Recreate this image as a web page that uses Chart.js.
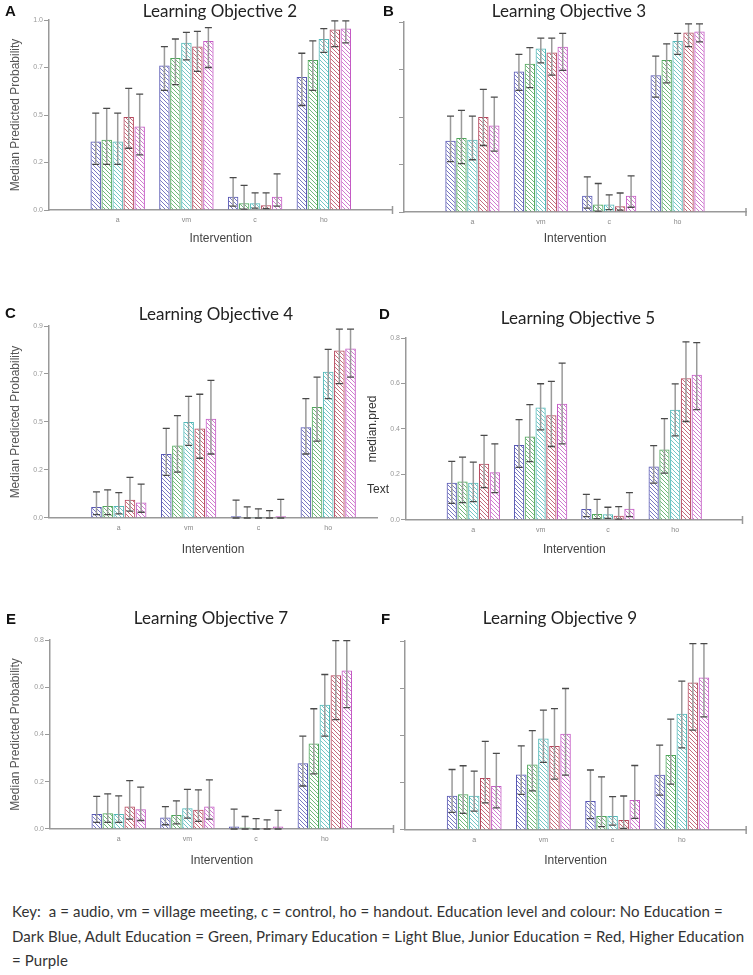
<!DOCTYPE html>
<html>
<head>
<meta charset="utf-8">
<script src="https://cdn.jsdelivr.net/npm/chart.js@4.4.1/dist/chart.umd.min.js"></script>
<style>
  body { margin: 0; background: #fff; width: 753px; height: 975px; position: relative; overflow: hidden; }
  canvas { position: absolute; }
  .ttl { position: absolute; font-family: Lato, sans-serif; font-size: 17px; color: #222; transform: translate(-50%, -50%); white-space: nowrap; }
  .lt { position: absolute; font: bold 15px "Liberation Sans", Arial, sans-serif; color: #111; transform: translateY(-50%); }
  #key { position: absolute; left: 12px; top: 899px; font-family: Lato, sans-serif; font-size: 15px; letter-spacing: 0.1px; line-height: 24.5px; color: #333; white-space: pre; }
  #txt { position: absolute; left: 367px; top: 482px; font: 12px "Liberation Sans", Arial, sans-serif; color: #333; }
</style>
</head>
<body>
<canvas id="cA" width="400" height="250" style="left:0px;top:0px"></canvas>
<canvas id="cB" width="377" height="250" style="left:376px;top:0px"></canvas>
<canvas id="cC" width="400" height="260" style="left:0px;top:300px"></canvas>
<canvas id="cD" width="398" height="260" style="left:355px;top:300px"></canvas>
<canvas id="cE" width="400" height="290" style="left:0px;top:580px"></canvas>
<canvas id="cF" width="377" height="290" style="left:376px;top:580px"></canvas>

<div class="lt" style="left:5px;top:10px">A</div>
<div class="lt" style="left:383px;top:10px">B</div>
<div class="lt" style="left:5px;top:312px">C</div>
<div class="lt" style="left:379px;top:313px">D</div>
<div class="lt" style="left:6px;top:618px">E</div>
<div class="lt" style="left:381px;top:618px">F</div>

<div class="ttl" style="left:220px;top:10px">Learning Objective 2</div>
<div class="ttl" style="left:569px;top:10px">Learning Objective 3</div>
<div class="ttl" style="left:216px;top:313px">Learning Objective 4</div>
<div class="ttl" style="left:578px;top:317px">Learning Objective 5</div>
<div class="ttl" style="left:211px;top:617px">Learning Objective 7</div>
<div class="ttl" style="left:560px;top:617px">Learning Objective 9</div>

<div id="txt">Text</div>
<div id="key">Key:  a = audio, vm = village meeting, c = control, ho = handout. Education level and colour: No Education =
Dark Blue, Adult Education = Green, Primary Education = Light Blue, Junior Education = Red, Higher Education
= Purple</div>

<script>
// categories
var interventions = ['a', 'vm', 'c', 'ho'];
var interventionPos = [1, 2, 3, 4];
var educationLevels = ['No Education', 'Adult Education', 'Primary Education', 'Junior Education', 'Higher Education'];
var eduColors = ['#5757b3', '#4ea65a', '#52b8b8', '#b5475c', '#c45ac4'];

// y tick values and labels
var ticks100 = [0, 0.25, 0.5, 0.75, 1.0];
var labels100 = ['0.0', '0.2', '0.5', '0.7', '1.0'];
var ticks90 = [0, 0.225, 0.45, 0.675, 0.9];
var labels90 = ['0.0', '0.2', '0.5', '0.7', '0.9'];
var ticks80 = [0, 0.2, 0.4, 0.6, 0.8];
var labels80 = ['0.0', '0.2', '0.4', '0.6', '0.8'];
var labelsBlank = ['', '', '', '', ''];

// each row = one education level, columns = a, vm, c, ho
var lo2Median = [[0.36, 0.76, 0.07, 0.70], [0.37, 0.80, 0.035, 0.79], [0.36, 0.88, 0.035, 0.90], [0.49, 0.86, 0.025, 0.95], [0.44, 0.89, 0.07, 0.955]];
var lo2Lower = [[0.24, 0.63, 0.02, 0.55], [0.24, 0.66, 0.005, 0.63], [0.24, 0.79, 0.01, 0.83], [0.325, 0.73, 0.007, 0.86], [0.29, 0.75, 0.02, 0.88]];
var lo2Upper = [[0.51, 0.86, 0.17, 0.825], [0.535, 0.90, 0.13, 0.89], [0.51, 0.935, 0.09, 0.955], [0.64, 0.94, 0.09, 0.995], [0.61, 0.96, 0.19, 0.995]];

var lo3Median = [[0.375, 0.74, 0.085, 0.72], [0.39, 0.78, 0.04, 0.80], [0.38, 0.86, 0.04, 0.90], [0.50, 0.84, 0.03, 0.945], [0.455, 0.87, 0.085, 0.95]];
var lo3Lower = [[0.265, 0.64, 0.02, 0.605], [0.255, 0.655, 0.005, 0.68], [0.275, 0.785, 0.012, 0.83], [0.35, 0.72, 0.01, 0.87], [0.32, 0.745, 0.025, 0.895]];
var lo3Upper = [[0.505, 0.83, 0.185, 0.82], [0.535, 0.865, 0.15, 0.885], [0.505, 0.915, 0.09, 0.94], [0.645, 0.915, 0.10, 0.99], [0.605, 0.94, 0.19, 0.99]];

var lo4Median = [[0.052, 0.30, 0.008, 0.425], [0.056, 0.34, 0.003, 0.52], [0.056, 0.45, 0.005, 0.685], [0.086, 0.42, 0.003, 0.785], [0.073, 0.465, 0.008, 0.795]];
var lo4Lower = [[0.016, 0.20, 0, 0.30], [0.016, 0.215, 0, 0.36], [0.019, 0.34, 0, 0.56], [0.032, 0.28, 0, 0.63], [0.027, 0.30, 0, 0.66]];
var lo4Upper = [[0.122, 0.42, 0.084, 0.56], [0.132, 0.48, 0.052, 0.66], [0.119, 0.57, 0.043, 0.79], [0.19, 0.58, 0.035, 0.885], [0.159, 0.645, 0.087, 0.885]];

var lo5Median = [[0.164, 0.33, 0.048, 0.235], [0.169, 0.367, 0.026, 0.31], [0.164, 0.495, 0.025, 0.485], [0.247, 0.46, 0.019, 0.623], [0.21, 0.511, 0.05, 0.639]];
var lo5Lower = [[0.073, 0.231, 0.015, 0.162], [0.076, 0.257, 0.006, 0.206], [0.081, 0.396, 0.007, 0.37], [0.142, 0.323, 0.004, 0.433], [0.12, 0.335, 0.015, 0.485]];
var lo5Upper = [[0.258, 0.441, 0.113, 0.327], [0.276, 0.507, 0.091, 0.446], [0.254, 0.599, 0.056, 0.598], [0.372, 0.609, 0.059, 0.783], [0.335, 0.69, 0.12, 0.78]];

var lo7Median = [[0.063, 0.049, 0.011, 0.278], [0.067, 0.059, 0.006, 0.362], [0.063, 0.088, 0.004, 0.526], [0.095, 0.081, 0.004, 0.651], [0.084, 0.095, 0.011, 0.671]];
var lo7Lower = [[0.028, 0.018, 0, 0.182], [0.028, 0.022, 0, 0.233], [0.028, 0.046, 0, 0.393], [0.042, 0.032, 0, 0.463], [0.036, 0.042, 0, 0.514]];
var lo7Upper = [[0.138, 0.095, 0.084, 0.393], [0.149, 0.119, 0.053, 0.509], [0.14, 0.168, 0.044, 0.654], [0.205, 0.166, 0.039, 0.797], [0.177, 0.208, 0.079, 0.797]];

var lo9Median = [[0.145, 0.235, 0.123, 0.234], [0.151, 0.277, 0.059, 0.317], [0.145, 0.387, 0.059, 0.492], [0.22, 0.356, 0.042, 0.624], [0.186, 0.407, 0.127, 0.645]];
var lo9Lower = [[0.075, 0.151, 0.048, 0.148], [0.07, 0.166, 0.014, 0.194], [0.08, 0.286, 0.021, 0.348], [0.115, 0.215, 0.007, 0.423], [0.094, 0.232, 0.049, 0.479]];
var lo9Upper = [[0.256, 0.356, 0.254, 0.359], [0.272, 0.421, 0.225, 0.469], [0.249, 0.507, 0.141, 0.63], [0.375, 0.514, 0.144, 0.789], [0.324, 0.599, 0.273, 0.789]];

// diagonal hatch fill like the original
function hatch(color) {
  var c = document.createElement('canvas');
  c.width = 4; c.height = 4;
  var g = c.getContext('2d');
  g.strokeStyle = color;
  g.globalAlpha = 0.8;
  g.lineWidth = 1;
  g.beginPath();
  g.moveTo(-1, -1); g.lineTo(5, 5);
  g.moveTo(3, -1); g.lineTo(5, 1);
  g.moveTo(-1, 3); g.lineTo(1, 5);
  g.stroke();
  return g.createPattern(c, 'repeat');
}

var errorBars = {
  id: 'errorBars',
  afterDatasetsDraw: function (chart) {
    var ctx = chart.ctx, y = chart.scales.y;
    ctx.save();
    chart.data.datasets.forEach(function (ds, i) {
      chart.getDatasetMeta(i).data.forEach(function (bar, j) {
        var hi = y.getPixelForValue(ds.upper[j]);
        var lo = y.getPixelForValue(ds.lower[j]);
        ctx.strokeStyle = '#9a9a9a';
        ctx.lineWidth = 1.5;
        ctx.beginPath();
        ctx.moveTo(bar.x, lo); ctx.lineTo(bar.x, hi);
        ctx.stroke();
        ctx.strokeStyle = '#4a4a4a';
        ctx.lineWidth = 1.3;
        ctx.beginPath();
        ctx.moveTo(bar.x - 3.5, hi); ctx.lineTo(bar.x + 3.5, hi);
        ctx.moveTo(bar.x - 3.5, lo); ctx.lineTo(bar.x + 3.5, lo);
        ctx.stroke();
      });
    });
    ctx.restore();
  }
};

var axisCap = {
  id: 'axisCap',
  afterDraw: function (chart) {
    if (!chart.options.plugins.axisCap.show) return;
    var x = chart.scales.x, ctx = chart.ctx;
    ctx.save();
    ctx.strokeStyle = '#999';
    ctx.lineWidth = 1.5;
    ctx.beginPath();
    ctx.moveTo(x.right, x.top - 4); ctx.lineTo(x.right, x.top + 4);
    ctx.stroke();
    ctx.restore();
  }
};

// canvas box and axis placement for each panel (unit = px per intervention step)
var panels = [
  { id: 'cA', left: 0, top: 0, h: 250, w: 400, axisX: 49, maxY: 20, zeroY: 210, unit: 68.7, xMax: 5, xTitleY: 239, yTitleX: 16,
    med: lo2Median, lo: lo2Lower, up: lo2Upper, yMax: 1, yTicks: ticks100, yLabels: labels100, yTitle: 'Median Predicted Probability', cap: true },
  { id: 'cB', left: 376, top: 0, h: 250, w: 377, axisX: 404, maxY: 22, zeroY: 212, unit: 68.4, xMax: 5, xTitleY: 239, yTitleX: 0,
    med: lo3Median, lo: lo3Lower, up: lo3Upper, yMax: 1, yTicks: ticks100, yLabels: labelsBlank, yTitle: '', cap: true },
  { id: 'cC', left: 0, top: 300, h: 260, w: 400, axisX: 49, maxY: 326, zeroY: 518, unit: 69.8, xMax: 4.7, xTitleY: 550, yTitleX: 16,
    med: lo4Median, lo: lo4Lower, up: lo4Upper, yMax: 0.9, yTicks: ticks90, yLabels: labels90, yTitle: 'Median Predicted Probability', cap: false },
  { id: 'cD', left: 355, top: 300, h: 260, w: 398, axisX: 406, maxY: 338, zeroY: 520, unit: 67.3, xMax: 5, xTitleY: 550, yTitleX: 373,
    med: lo5Median, lo: lo5Lower, up: lo5Upper, yMax: 0.8, yTicks: ticks80, yLabels: labels80, yTitle: 'median.pred', cap: true },
  { id: 'cE', left: 0, top: 580, h: 290, w: 400, axisX: 50, maxY: 640, zeroY: 829, unit: 68.7, xMax: 5, xTitleY: 861, yTitleX: 16,
    med: lo7Median, lo: lo7Lower, up: lo7Upper, yMax: 0.8, yTicks: ticks80, yLabels: labels80, yTitle: 'Median Predicted Probability', cap: true },
  { id: 'cF', left: 376, top: 580, h: 290, w: 377, axisX: 405, maxY: 641, zeroY: 830, unit: 69.2, xMax: 4.93, xTitleY: 861, yTitleX: 0,
    med: lo9Median, lo: lo9Lower, up: lo9Upper, yMax: 0.8, yTicks: ticks80, yLabels: labelsBlank, yTitle: '', cap: true }
];

panels.forEach(function (p) {
  var lh = 12 * 1.2;
  var padBottom = p.top + p.h - p.xTitleY - lh / 2;
  var xHeight = p.top + p.h - padBottom - p.zeroY;
  var yWidth = p.axisX - p.left;
  var padRight = p.left + p.w - (p.axisX + p.unit * p.xMax);
  var datasets = educationLevels.map(function (name, i) {
    return {
      label: name,
      data: interventionPos.map(function (x, k) { return { x: x, y: p.med[i][k] }; }),
      lower: p.lo[i],
      upper: p.up[i],
      backgroundColor: hatch(eduColors[i]),
      borderColor: eduColors[i],
      borderWidth: 1,
      categoryPercentage: 0.8,
      barPercentage: 0.95
    };
  });
  new Chart(document.getElementById(p.id), {
    type: 'bar',
    data: { datasets: datasets },
    plugins: [errorBars, axisCap],
    options: {
      responsive: false,
      animation: false,
      layout: { padding: { left: 0, top: p.maxY - p.top, bottom: padBottom, right: padRight } },
      plugins: { legend: { display: false }, tooltip: { enabled: false }, axisCap: { show: p.cap } },
      scales: {
        x: {
          type: 'linear',
          offset: false,
          min: 0,
          max: p.xMax,
          afterBuildTicks: function (s) { s.ticks = interventionPos.map(function (v) { return { value: v }; }); },
          afterFit: function (s) { s.height = xHeight; },
          grid: { display: false, drawTicks: false },
          border: { display: true, color: '#999', width: 1.5 },
          ticks: {
            padding: 6,
            color: '#888',
            font: { size: 7, family: 'Liberation Sans' },
            maxRotation: 0,
            autoSkip: false,
            callback: function (v) { return interventions[interventionPos.indexOf(v)] || ''; }
          },
          title: { display: true, text: 'Intervention', color: '#444', padding: 0, font: { size: 12, family: 'Liberation Sans' } }
        },
        y: {
          min: 0,
          max: p.yMax,
          afterBuildTicks: function (s) { s.ticks = p.yTicks.map(function (v) { return { value: v }; }); },
          afterFit: function (s) { s.width = yWidth; },
          grid: { display: true, drawOnChartArea: false, drawTicks: true, tickLength: 5, color: '#999' },
          border: { display: true, color: '#999', width: 1.5 },
          ticks: {
            padding: 1,
            color: '#999',
            font: { size: 7, family: 'Liberation Sans' },
            autoSkip: false,
            callback: function (v, idx) { return p.yLabels[idx]; }
          },
          title: {
            display: p.yTitle !== '',
            text: p.yTitle,
            color: p.yTitle === 'median.pred' ? '#333' : '#555',
            padding: { top: Math.max(p.yTitleX - p.left - lh / 2, 0), bottom: 0 },
            font: { size: 12, family: 'Liberation Sans' }
          }
        }
      }
    }
  });
});
</script>
</body>
</html>
